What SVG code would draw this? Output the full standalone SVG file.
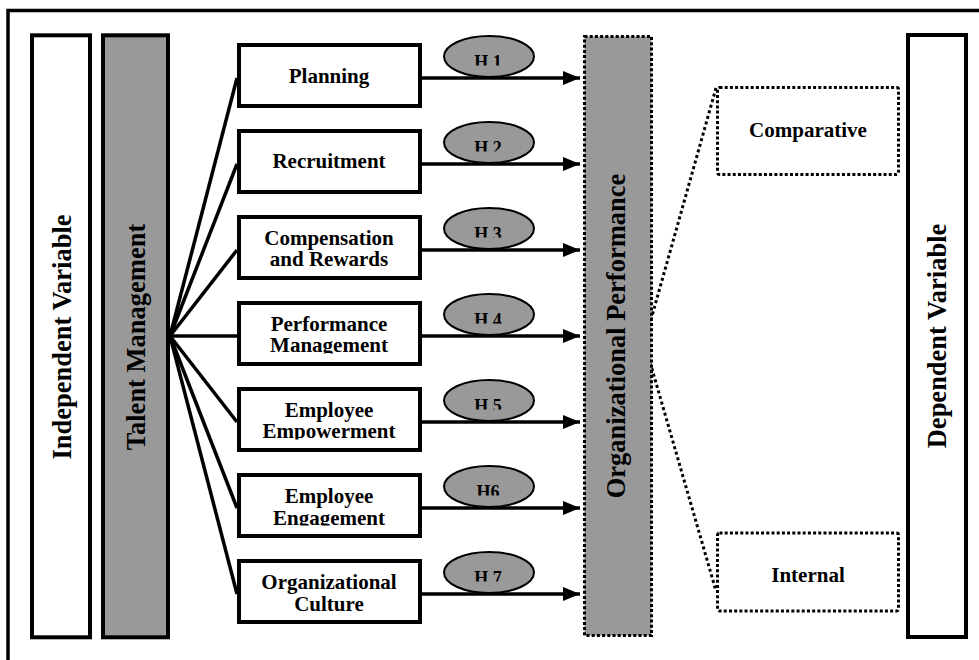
<svg xmlns="http://www.w3.org/2000/svg" width="979" height="660" viewBox="0 0 979 660">
<style>
  text { font-family: "Liberation Serif", "Times New Roman", serif; font-weight: bold; fill: #000; }
  .box { fill: #fff; stroke: #000; stroke-width: 4; }
  .gray { fill: #999; stroke: #000; stroke-width: 4; }
  .dotbox { fill: #fff; stroke: #000; stroke-width: 3; stroke-dasharray: 3 2.2; }
  .dotgray { fill: #999; stroke: #000; stroke-width: 3; stroke-dasharray: 3 2.2; }
  .lbl { font-size: 21px; text-anchor: middle; }
  .vert { font-size: 26.5px; text-anchor: middle; }
  .hyp { font-size: 18px; text-anchor: middle; }
  .ell { fill: #999; stroke: #000; stroke-width: 2; }
  .fan { stroke: #000; stroke-width: 3.5; fill: none; }
  .arr { stroke: #000; stroke-width: 3.5; fill: none; marker-end: url(#head); }
  .dotline { stroke: #000; stroke-width: 3; fill: none; stroke-dasharray: 3 2.8; }
</style>
<defs>
  <marker id="head" markerUnits="userSpaceOnUse" markerWidth="18" markerHeight="16" refX="17" refY="7" orient="auto">
    <path d="M0,0 L17,7 L0,14 Z" fill="#000"/>
  </marker>
  <clipPath id="boxclip"><rect x="0" y="0" width="185" height="52.5"/></clipPath>
  <clipPath id="hclip"><rect x="-50" y="-45" width="100" height="32.5"/></clipPath>
</defs>

<!-- outer frame (extends beyond the picture on right and bottom) -->
<rect id="frame" x="8" y="10.5" width="1000" height="700" fill="none" stroke="#000" stroke-width="3.5"/>

<g id="independent">
  <rect class="box" x="32" y="35.3" width="58" height="602"/>
  <text class="vert" transform="translate(71,337) rotate(-90)">Independent Variable</text>
</g>

<g id="talent">
  <rect class="gray" x="103" y="35.3" width="65" height="602"/>
  <text class="vert" transform="translate(145,337) rotate(-90)">Talent Management</text>
</g>

<g id="connectors">
  <line class="fan" x1="170" y1="336" x2="237" y2="78"/>
  <line class="fan" x1="170" y1="336" x2="237" y2="164"/>
  <line class="fan" x1="170" y1="336" x2="237" y2="250"/>
  <line class="fan" x1="170" y1="336" x2="237" y2="336"/>
  <line class="fan" x1="170" y1="336" x2="237" y2="422"/>
  <line class="fan" x1="170" y1="336" x2="237" y2="508"/>
  <line class="fan" x1="170" y1="336" x2="237" y2="594"/>
  <line class="arr" x1="421" y1="78" x2="580" y2="78"/>
  <line class="arr" x1="421" y1="164" x2="580" y2="164"/>
  <line class="arr" x1="421" y1="250" x2="580" y2="250"/>
  <line class="arr" x1="421" y1="336" x2="580" y2="336"/>
  <line class="arr" x1="421" y1="422" x2="580" y2="422"/>
  <line class="arr" x1="421" y1="508" x2="580" y2="508"/>
  <line class="arr" x1="421" y1="594" x2="580" y2="594"/>
  <path class="dotline" d="M716,88 L652,316 Q646,334 649,342 Q647,352 650,362 L716,591"/>
</g>

<g id="planning" transform="translate(237,43)">
  <rect class="box" x="2" y="2" width="181" height="61"/>
  <text class="lbl" clip-path="url(#boxclip)" x="92" y="40">Planning</text>
</g>
<g id="recruitment" transform="translate(237,129)">
  <rect class="box" x="2" y="2" width="181" height="61"/>
  <text class="lbl" clip-path="url(#boxclip)" x="92" y="39">Recruitment</text>
</g>
<g id="compensation" transform="translate(237,215)">
  <rect class="box" x="2" y="2" width="181" height="61"/>
  <text class="lbl" clip-path="url(#boxclip)" x="92" y="30">Compensation<tspan x="92" y="51">and Rewards</tspan></text>
</g>
<g id="performance-management" transform="translate(237,301)">
  <rect class="box" x="2" y="2" width="181" height="61"/>
  <text class="lbl" clip-path="url(#boxclip)" x="92" y="30">Performance<tspan x="92" y="51">Management</tspan></text>
</g>
<g id="empowerment" transform="translate(237,387)">
  <rect class="box" x="2" y="2" width="181" height="61"/>
  <text class="lbl" clip-path="url(#boxclip)" x="92" y="30">Employee<tspan x="92" y="51">Empowerment</tspan></text>
</g>
<g id="engagement" transform="translate(237,473)">
  <rect class="box" x="2" y="2" width="181" height="61"/>
  <text class="lbl" clip-path="url(#boxclip)" x="92" y="30">Employee<tspan x="92" y="51.5">Engagement</tspan></text>
</g>
<g id="culture" transform="translate(237,559)">
  <rect class="box" x="2" y="2" width="181" height="61"/>
  <text class="lbl" clip-path="url(#boxclip)" x="92" y="30">Organizational<tspan x="92" y="51.5">Culture</tspan></text>
</g>

<g id="h1" transform="translate(489,78)">
  <ellipse class="ell" cx="0" cy="-21.5" rx="45" ry="20.5"/>
  <text class="hyp" clip-path="url(#hclip)" x="-1" y="-10">H 1</text>
</g>
<g id="h2" transform="translate(489,164)">
  <ellipse class="ell" cx="0" cy="-21.5" rx="45" ry="20.5"/>
  <text class="hyp" clip-path="url(#hclip)" x="-1" y="-10">H 2</text>
</g>
<g id="h3" transform="translate(489,250)">
  <ellipse class="ell" cx="0" cy="-21.5" rx="45" ry="20.5"/>
  <text class="hyp" clip-path="url(#hclip)" x="-1" y="-10">H 3</text>
</g>
<g id="h4" transform="translate(489,336)">
  <ellipse class="ell" cx="0" cy="-21.5" rx="45" ry="20.5"/>
  <text class="hyp" clip-path="url(#hclip)" x="-1" y="-10">H 4</text>
</g>
<g id="h5" transform="translate(489,422)">
  <ellipse class="ell" cx="0" cy="-21.5" rx="45" ry="20.5"/>
  <text class="hyp" clip-path="url(#hclip)" x="-1" y="-10">H 5</text>
</g>
<g id="h6" transform="translate(489,508)">
  <ellipse class="ell" cx="0" cy="-21.5" rx="45" ry="20.5"/>
  <text class="hyp" clip-path="url(#hclip)" x="-1" y="-10">H6</text>
</g>
<g id="h7" transform="translate(489,594)">
  <ellipse class="ell" cx="0" cy="-21.5" rx="45" ry="20.5"/>
  <text class="hyp" clip-path="url(#hclip)" x="-1" y="-10">H 7</text>
</g>

<g id="org-performance">
  <rect class="dotgray" x="584.5" y="36.5" width="67" height="599"/>
  <text class="vert" transform="translate(625,336) rotate(-90)">Organizational Performance</text>
</g>

<g id="comparative">
  <rect class="dotbox" x="717.5" y="87.5" width="181" height="87" rx="2"/>
  <text class="lbl" x="808" y="137">Comparative</text>
</g>

<g id="internal">
  <rect class="dotbox" x="717.5" y="533" width="181" height="78" rx="2"/>
  <text class="lbl" x="808" y="582">Internal</text>
</g>

<g id="dependent">
  <rect class="box" x="908" y="35" width="58" height="602"/>
  <text class="vert" transform="translate(946,336) rotate(-90)">Dependent Variable</text>
</g>
</svg>
